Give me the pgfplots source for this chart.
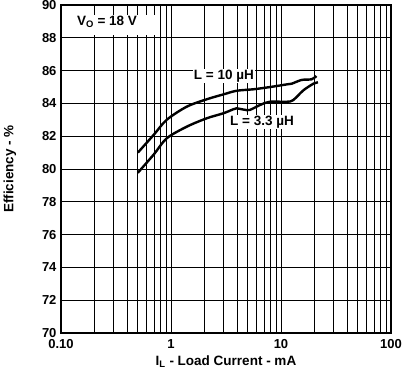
\documentclass[border=0pt]{standalone}
\usepackage{pgfplots}
\pgfplotsset{compat=1.18}
\usepackage{fontspec}
\setmainfont{Liberation Sans}
\newcommand{\lbl}{\bfseries\fontsize{13}{15}\selectfont}
\newcommand{\lbll}{\bfseries\fontsize{13.5}{15.5}\selectfont}
\begin{document}
\begin{tikzpicture}
\begin{axis}[
  name=main,
  scale only axis, width=330pt, height=328pt,
  xmode=log, xmin=0.1, xmax=100, ymin=70, ymax=90,
  ytick={70,72,...,90},
  xtick={0.1,1,10,100}, xticklabels={0.10,1,10,100},
  minor xtick={0.2,0.3,0.4,0.5,0.6,0.7,0.8,0.9,2,3,4,5,6,7,8,9,20,30,40,50,60,70,80,90},
  grid=both,
  major grid style={black, line width=0.8pt},
  minor grid style={black, line width=0.8pt},
  tick style={draw=none},
  axis line style={line width=1.4pt},
  /pgf/number format/assume math mode=true,
  ticklabel style={font=\lbl},
  xticklabel style={yshift=-3pt},
  yticklabel style={xshift=-1pt},
  log ticks with fixed point,
  xlabel={\lbll I\textsubscript{L} - Load Current - mA},
  ylabel={\lbll Efficiency - \%},
  xlabel style={at={(axis description cs:0.5,-0.088)}, anchor=center},
  ylabel style={at={(axis description cs:-0.155,0.5)}, anchor=center},
]
\addplot[black, line width=2.4pt, smooth] coordinates {
 (0.5,81.0) (0.7,82.1) (0.914,83.0) (1.39,83.8) (2.11,84.25) (3.0,84.55) (3.95,84.77) (5.6,84.86) (8,85.0) (11.3,85.16) (12.5,85.2) (15.4,85.43) (19,85.47) (21,85.67)
};
\addplot[black, line width=2.4pt, smooth] coordinates {
 (0.5,79.77) (0.7,80.9) (0.914,81.87) (1.39,82.58) (2.11,83.09) (3.0,83.4) (3.68,83.64) (3.95,83.70) (4.6,83.62) (5.2,83.6) (6.43,83.9) (7.9,84.1) (11.3,84.1) (12.9,84.2) (16,84.8) (19.7,85.2) (21.7,85.28)
};
\fill[white] (axis cs:0.1,90) rectangle (axis cs:0.716,88.2);
\node[font=\lbll] at (axis cs:0.262,88.96) {V\textsubscript{O} = 18 V};
\node[font=\lbll, fill=white, inner sep=1pt] at (axis cs:3.03,85.67) {L = 10 µH};
\node[font=\lbll, fill=white, inner sep=1pt] at (axis cs:6.72,82.87) {L = 3.3 µH};
\end{axis}
\begin{axis}[
  at={(main.south west)}, anchor=south west,
  scale only axis, width=330pt, height=328pt,
  xmode=log, xmin=0.1, xmax=100, ymin=70, ymax=90,
  xtick={0.1,1,10,100}, xticklabels={},
  minor xtick={0.2,0.3,0.4,0.5,0.6,0.7,0.8,0.9,2,3,4,5,6,7,8,9,20,30,40,50,60,70,80,90},
  ytick=\empty,
  xtick pos=right,
  tick align=inside,
  major tick length=10pt, minor tick length=10pt,
  tick style={black, line width=0.8pt},
  axis line style={line width=1.4pt},
]
\end{axis}
\pgfresetboundingbox
\path[use as bounding box] (main.south west) ++(-61pt,-39pt) rectangle ++(407pt,372pt);
\end{tikzpicture}
\end{document}
